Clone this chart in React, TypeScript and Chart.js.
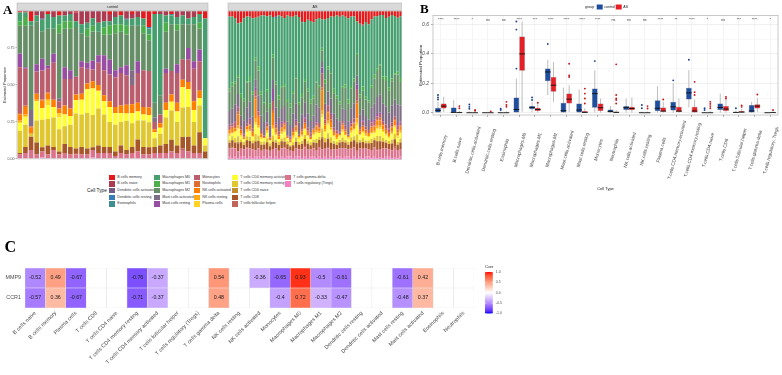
import React, { useEffect, useRef } from "react";
import { Chart, registerables } from "chart.js";

Chart.register(...registerables);

const SANS = "'Liberation Sans', Arial, Helvetica, sans-serif";
const SERIF = "'Liberation Serif', 'Times New Roman', serif";
Chart.defaults.font.family = SANS;

// ---------- Panel A: CIBERSORT fractions per sample ----------
const cellTypes = [
  "B cells memory", "B cells naive", "Dendritic cells activated", "Dendritic cells resting", "Eosinophils",
  "Macrophages M0", "Macrophages M1", "Macrophages M2", "Mast cells activated", "Mast cells resting",
  "Monocytes", "Neutrophils", "NK cells activated", "NK cells resting", "Plasma cells",
  "T cells CD4 memory activated", "T cells CD4 memory resting", "T cells CD4 naive", "T cells CD8",
  "T cells follicular helper", "T cells gamma delta", "T cells regulatory (Tregs)",
];
const cellColors = [
  "#E41A1C", "#AA3B50", "#715D84", "#377EB8", "#3E8E93",
  "#469F6F", "#4DAF4A", "#668F68", "#7F6E85", "#984EA3",
  "#BA5E6D", "#DD6F36", "#FF7F00", "#FFAA11", "#FFD422",
  "#FFFF33", "#E1C72F", "#C48E2C", "#A65628", "#C1645A",
  "#DC738D", "#F781BF",
];

// control group (percent of each sample)
const ctrlBmem = [1,0,7,0,0,2,0,3,0,0, 1,0,0,0,0,0,2,0,3,0, 2,0,5,11,2,0,0,2,0,0, 0,0,2,5];
const ctrlBnaive = [0,1,0,3,5,0,4,0,3,2, 6,9,8,5,8,7,5,4,0,5, 3,4,0,0,0,2,3,0,4,3, 5,4,0,0];
const ctrlDCact = [0,0,0,0,1,0,0,0,0,0, 0,0,0,0,0,0,0,0,0,1, 0,0,0,0,0,0,0,0,0,0, 0,0,0,0];
const ctrlDCrest = [0,0,0,0,0,0,0,0,0,0, 0,0,0,0,0,0,0,0,0,0, 0,0,0,1,0,0,0,0,0,0, 0,0,0,0];
const ctrlEos = [0,0,0,0,0,0,0,0,0,0, 0,0,0,0,0,0,0,0,0,0, 0,0,0,0,0,0,0,1,0,0, 0,0,0,0];
const ctrlM0 = [6,3,3,4,8,10,8,6,4,5, 4,6,4,5,6,4,3,5,6,4, 5,6,5,4,60,55,5,6,5,6, 4,5,6,81];
const ctrlM1 = [3,6,0,0,0,0,0,6,5,5, 0,0,5,4,0,5,6,6,5,6, 0,0,5,4,0,0,6,0,4,0, 0,0,4,0];
const ctrlM2 = [19,28,57,29,19,25,17,44,26,28, 34,19,18,20,16,14,17,25,24,21, 30,24,25,21,10,13,25,32,23,24, 16,25,14,0];
const ctrlMastAct = [0,0,11,0,0,0,0,2,0,0, 0,0,0,0,0,0,0,0,0,0, 10,0,0,0,3,0,0,0,0,0, 0,0,0,0];
const ctrlMastRest = [9,1,0,5,8,2,6,0,8,6, 0,4,4,6,5,10,10,5,4,7, 0,8,0,0,0,0,3,0,6,0, 8,5,8,0];
const ctrlMono = [31,25,0,15,20,16,25,5,18,20, 12,18,10,8,15,17,18,20,22,20, 13,20,25,25,5,6,20,16,20,14, 15,22,20,0];
const ctrlNeut = [1,1,1,0,1,1,0,0,0,0, 0,0,0,0,0,0,0,0,0,0, 0,0,0,0,0,0,0,0,0,0, 0,0,0,0];
const ctrlNKact = [4,5,4,4,5,4,5,3,6,5, 4,4,4,5,4,4,4,4,5,6, 6,6,5,5,2,3,5,5,6,5, 5,6,5,0];
const ctrlNKrest = [1,1,0,1,0,0,0,0,0,0, 0,0,0,0,0,0,0,0,0,0, 0,0,0,0,0,0,0,0,0,0, 0,0,0,0];
const ctrlPlasma = [1,1,0,0,0,4,0,3,0,0, 0,0,0,0,0,0,0,0,0,0, 0,0,0,0,0,0,0,0,0,0, 0,0,0,0];
const ctrlCD4act = [5,5,0,13,8,9,7,8,8,6, 9,10,16,18,12,9,10,8,6,5, 7,6,4,5,4,4,5,6,7,14, 12,8,5,5];
const ctrlCD4rest = [15,15,2,15,19,18,20,15,12,15, 24,22,24,22,25,22,17,18,16,20, 16,13,18,17,6,8,18,20,16,20, 20,16,18,4];
const ctrlCD4naive = [0,0,0,0,0,0,0,0,0,0, 0,0,0,0,0,0,0,0,0,0, 0,0,0,0,0,0,0,0,0,0, 0,0,0,0];
const ctrlCD8 = [1,4,9,8,3,6,2,2,6,5, 3,5,4,2,5,4,4,3,5,3, 4,8,5,5,4,5,6,8,5,8, 10,5,14,5];
const ctrlTfh = [0,0,0,0,0,0,0,0,0,0, 1,0,0,0,0,0,0,0,0,0, 0,0,0,0,0,0,0,0,0,1, 0,0,0,0];
const ctrlGammaDelta = [3,4,6,3,4,3,6,3,4,3, 3,3,3,5,4,4,4,2,4,3, 4,5,3,3,4,4,4,5,4,6, 5,4,4,0];
const ctrlTregs = [0,0,0,0,1,0,0,0,0,0, 0,0,0,1,0,0,0,0,0,0, 0,0,0,0,0,0,0,0,0,0, 0,0,0,0];

// AS group (percent of each sample)
const asBmem = [4,4,5,9,8,5,4,4,5,5, 4,3,3,4,3,4,4,3,4,5, 3,4,4,3,4,7,8,6,7,8, 6,5,6,6,5,4,4,3,4,3, 4,5,4,4,7,9,10,8,9,6, 4,4,3,3,5,4,3,4,5,4];
const asBnaive = [0,0,0,0,0,0,0,0,0,0, 0,0,0,0,0,0,0,0,0,0, 0,0,0,0,0,1,0,0,0,0, 0,0,0,0,0,0,0,0,0,0, 0,0,0,0,0,0,1,0,0,0, 0,0,0,0,0,0,0,0,0,0];
const asDCact = [0,0,0,0,0,0,0,0,0,0, 0,0,0,0,0,0,0,0,0,0, 0,0,0,0,0,0,0,0,0,0, 0,0,0,0,0,0,0,0,0,0, 0,0,0,0,0,0,0,0,0,0, 0,0,0,0,0,0,0,0,0,0];
const asDCrest = [0,0,0,0,0,0,0,0,0,0, 0,0,0,0,0,0,1,0,0,0, 0,0,0,0,0,0,0,0,0,0, 0,0,0,0,0,0,0,0,0,0, 0,0,0,0,0,0,0,0,0,0, 0,0,0,0,0,0,0,0,0,0];
const asEos = [0,0,0,0,0,0,0,0,0,0, 0,0,0,0,0,0,0,0,0,0, 0,0,0,0,0,0,0,0,0,0, 0,0,0,0,0,0,0,0,0,0, 0,0,0,0,0,0,0,0,0,0, 0,0,0,0,0,0,0,0,0,0];
const asM0 = [52,48,45,38,50,55,47,42,50,30, 35,52,58,55,60,25,45,55,50,48, 55,60,52,45,58,50,42,48,55,52, 45,48,20,42,35,40,50,55,60,52, 48,55,50,45,22,50,45,55,52,48, 42,40,38,45,42,50,48,45,40,47];
const asM1 = [2,3,1,2,3,2,1,4,2,2, 3,2,1,2,3,2,2,3,1,2, 2,3,2,1,2,3,2,2,3,2, 1,2,2,3,2,1,3,2,2,1, 2,3,2,2,1,2,3,2,1,2, 3,2,1,2,3,2,2,1,2,3];
const asM2 = [14,16,15,12,12,13,18,14,15,14, 18,14,12,15,12,15,16,12,15,14, 13,12,14,18,12,12,15,15,12,12, 16,14,8,14,16,18,14,14,12,15, 16,12,14,16,14,12,14,12,12,14, 18,20,22,18,18,16,18,20,22,18];
const asMastAct = [10,11,12,9,8,9,12,12,8,6, 10,10,9,8,7,6,11,10,9,11, 9,8,10,12,8,9,11,10,8,9, 12,11,4,10,10,11,10,8,7,9, 11,9,10,11,6,9,8,8,7,10, 12,13,14,12,13,11,12,13,14,12];
const asMastRest = [1,0,1,1,0,1,0,1,0,2, 1,0,0,1,0,8,1,0,1,0, 0,1,0,1,0,0,1,0,1,0, 1,0,4,1,0,1,0,0,1,0, 1,0,1,0,3,0,1,0,0,1, 1,2,1,1,0,1,1,0,2,1];
const asMono = [2,2,3,3,2,1,2,3,2,5, 3,2,1,2,1,6,2,2,3,2, 1,1,2,3,1,2,3,2,2,1, 2,3,10,3,4,3,2,2,1,2, 2,1,2,3,8,2,3,2,2,3, 3,2,3,2,3,2,3,2,3,2];
const asNeut = [1,1,1,2,1,1,0,1,1,2, 1,1,0,1,1,2,1,1,1,1, 0,1,1,1,0,1,1,1,1,0, 1,1,2,1,1,2,1,1,0,1, 1,0,1,1,2,1,1,1,0,1, 1,1,2,1,1,1,1,1,2,1];
const asNKact = [2,3,2,8,2,1,2,3,2,14, 6,2,1,2,1,8,3,2,2,3, 1,1,2,3,1,2,3,2,1,2, 3,2,14,3,6,4,2,2,1,3, 2,1,2,3,10,2,3,2,2,3, 3,4,4,3,2,2,3,4,2,3];
const asNKrest = [1,1,0,2,1,0,1,1,0,3, 1,0,0,1,0,2,1,0,1,1, 0,0,1,1,0,1,1,0,0,1, 1,1,3,1,2,1,0,1,0,1, 1,0,1,1,3,0,1,1,0,1, 1,2,1,1,1,0,1,1,1,1];
const asPlasma = [1,0,1,1,1,0,1,0,1,2, 1,1,0,1,0,1,1,0,1,1, 0,1,1,0,1,1,0,1,0,1, 1,0,2,1,1,1,1,0,1,1, 0,1,1,1,2,1,0,1,1,0, 1,1,2,1,1,1,1,1,1,1];
const asCD4act = [3,2,4,5,2,2,3,4,2,7, 5,2,2,4,2,4,3,2,3,4, 2,1,3,4,2,3,4,3,2,3, 4,3,8,4,6,5,3,2,2,4, 3,2,3,4,6,3,4,3,2,4, 3,5,5,4,3,2,4,5,3,4];
const asCD4rest = [2,3,3,4,2,2,3,3,2,5, 4,2,2,3,2,4,2,2,2,3, 2,1,2,3,2,2,3,2,2,2, 3,2,6,3,4,4,2,2,2,3, 2,2,3,3,5,2,3,2,2,3, 2,4,4,3,2,2,3,4,2,3];
const asCD4naive = [0,0,0,1,0,0,0,0,0,1, 0,0,0,0,0,0,0,0,0,0, 0,0,0,0,0,0,0,0,0,0, 0,0,1,0,0,0,0,0,0,0, 0,0,0,0,1,0,0,0,0,0, 0,0,0,0,0,0,0,0,0,0];
const asCD8 = [4,5,4,6,4,3,5,5,4,6, 5,4,3,5,3,5,4,4,5,4, 3,3,4,5,3,4,5,4,3,4, 5,5,8,4,6,5,4,3,4,5, 4,3,5,5,5,4,5,4,4,5, 5,6,6,5,4,4,5,6,4,5];
const asTfh = [0,1,0,0,0,0,1,0,0,0, 0,0,0,1,0,0,0,0,0,1, 0,0,0,0,0,0,1,0,0,0, 0,0,0,0,1,0,0,0,0,0, 0,0,1,0,0,0,0,0,0,0, 0,1,0,0,0,0,0,1,0,0];
const asGammaDelta = [6,7,6,5,6,5,7,6,6,5, 6,5,5,6,4,6,6,5,6,7, 5,4,5,6,5,6,7,6,5,6, 6,7,6,6,7,5,6,5,6,7, 6,5,6,7,5,6,7,6,5,6, 7,6,6,7,6,5,6,7,6,6];
const asTregs = [2,1,2,1,2,2,1,2,1,2, 2,1,2,1,2,1,2,1,2,1, 2,2,1,2,2,1,2,1,2,2, 1,2,1,2,1,2,1,2,2,1, 2,2,1,2,1,2,1,2,2,1, 2,1,2,1,2,2,1,2,1,2];

const ctrlSeries = [ctrlBmem, ctrlBnaive, ctrlDCact, ctrlDCrest, ctrlEos, ctrlM0, ctrlM1, ctrlM2, ctrlMastAct, ctrlMastRest,
  ctrlMono, ctrlNeut, ctrlNKact, ctrlNKrest, ctrlPlasma, ctrlCD4act, ctrlCD4rest, ctrlCD4naive, ctrlCD8, ctrlTfh, ctrlGammaDelta, ctrlTregs];
const asSeries = [asBmem, asBnaive, asDCact, asDCrest, asEos, asM0, asM1, asM2, asMastAct, asMastRest,
  asMono, asNeut, asNKact, asNKrest, asPlasma, asCD4act, asCD4rest, asCD4naive, asCD8, asTfh, asGammaDelta, asTregs];
const proportionTicks = [0, 0.25, 0.5, 0.75];

// ---------- Panel B: box statistics per cell type ----------
const boxCellTypes = [
  "B.cells.memory", "B.cells.naive", "Dendritic.cells.activated", "Dendritic.cells.resting", "Eosinophils",
  "Macrophages.M0", "Macrophages.M1", "Macrophages.M2", "Mast.cells.activated", "Mast.cells.resting",
  "Monocytes", "Neutrophils", "NK.cells.activated", "NK.cells.resting", "Plasma.cells",
  "T.cells.CD4.memory.activated", "T.cells.CD4.memory.resting", "T.cells.CD4.naive", "T.cells.CD8",
  "T.cells.follicular.helper", "T.cells.gamma.delta", "T.cells.regulatory..Tregs.",
];
const signifLabels = ["****","****","*","ns","ns","****","***","****","****","****","****","ns","ns","ns","****","**","****","*","ns","***","****","*"];
const ctrlMin = [0,0,0,0,0,0,0.002,0.12,0,0,0,0,0,0,0,0,0.036,0,0,0,0,0];
const ctrlQ1 = [0.002,0,0,0,0,0,0.023,0.214,0,0,0.034,0,0.018,0,0.01,0.015,0.09,0,0.018,0,0.002,0];
const ctrlMed = [0.016,0.002,0,0,0,0.022,0.036,0.277,0.014,0.018,0.13,0.009,0.034,0,0.03,0.04,0.135,0,0.036,0.002,0.012,0];
const ctrlQ3 = [0.034,0.036,0.004,0.001,0.002,0.104,0.045,0.3,0.068,0.063,0.164,0.022,0.045,0.003,0.085,0.075,0.17,0.002,0.063,0.006,0.052,0.002];
const ctrlMax = [0.074,0.086,0.01,0.003,0.006,0.232,0.074,0.36,0.171,0.158,0.288,0.045,0.097,0.008,0.18,0.2,0.29,0.005,0.13,0.015,0.074,0.005];
const ctrlOut = [[0.09,0.104,0.12],[],[0.027,0.04,0.056],[],[0.018,0.027],[0.3,0.565,0.62],[0.086,0.104],[0.468],[],[],[0.351],[],[],[0.03,0.052],[],[0.22],[0.36],[0.018,0.03],[],[0.03],[],[]];
const asMin = [0.005,0,0,0,0,0.007,0,0.074,0.005,0,0,0,0,0,0,0,0,0,0,0,0.005,0];
const asQ1 = [0.029,0,0,0,0,0.285,0.011,0.142,0.063,0,0.011,0,0.016,0,0.007,0.005,0,0,0.011,0,0.029,0];
const asMed = [0.045,0.001,0,0,0,0.4,0.022,0.187,0.092,0.002,0.034,0.002,0.029,0,0.011,0.011,0.012,0,0.025,0.004,0.045,0.001];
const asQ3 = [0.063,0.006,0.003,0.002,0.004,0.518,0.034,0.243,0.13,0.012,0.063,0.008,0.04,0.003,0.036,0.04,0.04,0.004,0.045,0.012,0.058,0.004];
const asMax = [0.108,0.014,0.008,0.005,0.01,0.62,0.063,0.345,0.187,0.03,0.097,0.02,0.104,0.008,0.075,0.097,0.09,0.01,0.09,0.025,0.1,0.012];
const asOut = [[],[0.03,0.045],[0.013,0.018],[0.008],[0.04,0.052,0.074],[],[0.068],[],[0.243,0.254,0.333],[0.063,0.097,0.13,0.164],[],[0.063,0.086,0.097,0.12,0.329],[],[0.029,0.045],[0.09],[],[0.12,0.14,0.21],[0.03,0.045,0.06,0.074],[0.097,0.108],[0.04,0.05],[0.124],[0.018]];
const boxTicks = [0, 0.1, 0.2, 0.3, 0.4, 0.5, 0.6];

// ---------- Panel C: correlation of MMP9 / CCR1 with immune cells ----------
const corrCells = [
  "B cells naive", "B cells memory", "Plasma cells", "T cells CD8", "T cells CD4 naive",
  "T cells CD4 memory resting", "T cells CD4 memory activated", "T cells follicular helper",
  "T cells regulatory (Tregs)", "T cells gamma delta", "NK cells resting", "NK cells activated",
  "Monocytes", "Macrophages M0", "Macrophages M1", "Macrophages M2", "Dendritic cells resting",
  "Dendritic cells activated", "Mast cells resting", "Mast cells activated", "Eosinophils", "Neutrophils",
];
const corrMMP9 = [-0.52,0.49,-0.67,null,null,-0.76,-0.37,null,null,0.54,null,-0.36,-0.65,0.93,-0.5,-0.61,null,null,-0.61,0.42,null,null];
const corrCCR1 = [-0.57,0.36,-0.67,null,null,-0.71,-0.37,null,null,0.48,null,null,-0.4,0.72,-0.33,-0.47,null,null,-0.48,0.37,null,null];
const corrLegendTicks = [1, 0.5, 0, -0.5, -1];

// ---------- colour helpers (blue-white-red diverging scale in CIE Lab) ----------
function hexToLab(hex: string): number[] {
  const ch = [1, 3, 5].map((i) => parseInt(hex.slice(i, i + 2), 16) / 255);
  const lin = ch.map((c) => (c <= 0.04045 ? c / 12.92 : Math.pow((c + 0.055) / 1.055, 2.4)));
  const [R, G, B] = lin;
  const X = (R * 0.4124564 + G * 0.3575761 + B * 0.1804375) / 0.95047;
  const Y = R * 0.2126729 + G * 0.7151522 + B * 0.072175;
  const Z = (R * 0.0193339 + G * 0.119192 + B * 0.9503041) / 1.08883;
  const f = (t: number) => (t > 216 / 24389 ? Math.cbrt(t) : ((24389 / 27) * t + 16) / 116);
  const fx = f(X), fy = f(Y), fz = f(Z);
  return [116 * fy - 16, 500 * (fx - fy), 200 * (fy - fz)];
}
function labToRgb(lab: number[]): string {
  const [L, a, b] = lab;
  const fy = (L + 16) / 116, fx = fy + a / 500, fz = fy - b / 200;
  const inv = (t: number) => (t * t * t > 216 / 24389 ? t * t * t : (116 * t - 16) / (24389 / 27));
  const X = inv(fx) * 0.95047, Y = inv(fy), Z = inv(fz) * 1.08883;
  const lin = [
    3.2404542 * X - 1.5371385 * Y - 0.4985314 * Z,
    -0.969266 * X + 1.8760108 * Y + 0.041556 * Z,
    0.0556434 * X - 0.2040259 * Y + 1.0572252 * Z,
  ];
  const out = lin.map((c) => {
    const v = Math.min(1, Math.max(0, c));
    const g = v <= 0.0031308 ? 12.92 * v : 1.055 * Math.pow(v, 1 / 2.4) - 0.055;
    return Math.round(g * 255);
  });
  return `rgb(${out[0]},${out[1]},${out[2]})`;
}
const LAB_WHITE = hexToLab("#FFFFFF");
const LAB_BLUE = hexToLab("#0000FF");
const LAB_RED = hexToLab("#FF0000");
function corrColor(v: number | null): string {
  if (v === null) return "#ffffff";
  const end = v < 0 ? LAB_BLUE : LAB_RED;
  const t = Math.min(1, Math.abs(v));
  return labToRgb(LAB_WHITE.map((w, i) => w + (end[i] - w) * t));
}

function toProportions(series: number[][]): number[][] {
  const n = series[0].length;
  const totals = Array.from({ length: n }, (_, j) => series.reduce((s, row) => s + row[j], 0));
  return series.map((row) => row.map((v, j) => v / totals[j]));
}

// ---------- plugins ----------
const facetPlugin = {
  id: "facetStrip",
  afterDraw(chart: any, _args: any, opts: any) {
    const { ctx, chartArea } = chart;
    const { left, right, top, bottom } = chartArea;
    ctx.save();
    ctx.fillStyle = "#d9d9d9";
    ctx.fillRect(left, 3, right - left, 7.5);
    ctx.strokeStyle = "#b5b5b5";
    ctx.lineWidth = 0.6;
    ctx.strokeRect(left, 3, right - left, 7.5);
    ctx.fillStyle = "#1a1a1a";
    ctx.font = `3.6px ${SANS}`;
    ctx.textAlign = "center";
    ctx.textBaseline = "middle";
    ctx.fillText(opts.text, (left + right) / 2, 6.9);
    ctx.strokeStyle = "#c2c2c2";
    ctx.lineWidth = 0.8;
    ctx.strokeRect(left, top, right - left, bottom - top);
    ctx.restore();
  },
};

const boxPlugin = {
  id: "boxExtras",
  beforeDatasetsDraw(chart: any) {
    const { ctx } = chart;
    const ys = chart.scales.y;
    chart.data.datasets.forEach((ds: any, di: number) => {
      const meta = chart.getDatasetMeta(di);
      meta.data.forEach((el: any, i: number) => {
        ctx.save();
        ctx.strokeStyle = "#bdbdbd";
        ctx.lineWidth = 1;
        ctx.beginPath();
        ctx.moveTo(el.x, ys.getPixelForValue(ds.stats.max[i]));
        ctx.lineTo(el.x, ys.getPixelForValue(ds.stats.min[i]));
        ctx.stroke();
        ctx.restore();
      });
    });
  },
  afterDatasetsDraw(chart: any) {
    const { ctx } = chart;
    const ys = chart.scales.y;
    chart.data.datasets.forEach((ds: any, di: number) => {
      const meta = chart.getDatasetMeta(di);
      meta.data.forEach((el: any, i: number) => {
        const w = el.width;
        const ym = ys.getPixelForValue(ds.stats.med[i]);
        ctx.save();
        ctx.strokeStyle = "#111111";
        ctx.lineWidth = 0.9;
        ctx.beginPath();
        ctx.moveTo(el.x - w / 2, ym);
        ctx.lineTo(el.x + w / 2, ym);
        ctx.stroke();
        ctx.fillStyle = ds.stats.dot;
        ds.stats.out[i].forEach((v: number) => {
          ctx.beginPath();
          ctx.arc(el.x, ys.getPixelForValue(v), 0.95, 0, Math.PI * 2);
          ctx.fill();
        });
        ctx.restore();
      });
    });
  },
  afterDraw(chart: any) {
    const { ctx, chartArea } = chart;
    const xs = chart.scales.x;
    const ys = chart.scales.y;
    ctx.save();
    ctx.strokeStyle = "#b3b3b3";
    ctx.lineWidth = 0.7;
    ctx.strokeRect(chartArea.left, chartArea.top, chartArea.right - chartArea.left, chartArea.bottom - chartArea.top);
    // significance marks
    ctx.fillStyle = "#333333";
    ctx.font = `3.6px ${SANS}`;
    ctx.textAlign = "center";
    ctx.textBaseline = "middle";
    signifLabels.forEach((s, i) => ctx.fillText(s, xs.getPixelForValue(i), ys.getPixelForValue(0.632)));
    // rotated category labels
    ctx.fillStyle = "#3a3a3a";
    ctx.font = `4.6px ${SANS}`;
    boxCellTypes.forEach((name, i) => {
      ctx.save();
      ctx.translate(xs.getPixelForValue(i) + 1, 150);
      ctx.rotate((-75 * Math.PI) / 180);
      ctx.fillText(name, 0, 0);
      ctx.restore();
    });
    // group legend
    ctx.textAlign = "left";
    ctx.fillStyle = "#222222";
    ctx.font = `3.6px ${SANS}`;
    ctx.fillText("group", 190, 7.2);
    ctx.fillStyle = "#1f4e9f";
    ctx.fillRect(201.7, 4.5, 6, 5);
    ctx.fillStyle = "#e41f26";
    ctx.fillRect(220.7, 4.5, 6, 5);
    ctx.fillStyle = "#222222";
    ctx.fillText("control", 209.3, 7.2);
    ctx.fillText("AS", 228.3, 7.2);
    ctx.restore();
  },
};

const heatPlugin = {
  id: "heatExtras",
  afterDatasetsDraw(chart: any) {
    const { ctx } = chart;
    ctx.save();
    ctx.fillStyle = "#1a1a1a";
    ctx.font = `5.3px ${SANS}`;
    ctx.textAlign = "center";
    ctx.textBaseline = "middle";
    chart.data.datasets.forEach((ds: any, di: number) => {
      const meta = chart.getDatasetMeta(di);
      meta.data.forEach((el: any, i: number) => {
        const v = ds.corr[i];
        if (v === null) return;
        ctx.fillText(String(v), el.x, (el.y + el.base) / 2);
      });
    });
    ctx.restore();
  },
  afterDraw(chart: any) {
    const { ctx, chartArea } = chart;
    const x0 = chartArea.right + 11;
    const y0 = chartArea.top + 4;
    const h = 41.5;
    const w = 7.8;
    ctx.save();
    const grad = ctx.createLinearGradient(0, y0, 0, y0 + h);
    for (let k = 0; k <= 20; k++) grad.addColorStop(k / 20, corrColor(1 - k / 10));
    ctx.fillStyle = grad;
    ctx.fillRect(x0, y0, w, h);
    ctx.fillStyle = "#222222";
    ctx.font = `4.4px ${SANS}`;
    ctx.textAlign = "left";
    ctx.textBaseline = "middle";
    ctx.fillText("Corr", x0, y0 - 5);
    ctx.font = `3.5px ${SANS}`;
    ctx.fillStyle = "#4d4d4d";
    corrLegendTicks.forEach((t) => {
      const y = y0 + ((1 - t) / 2) * h;
      ctx.fillText(t.toFixed(1), x0 + w + 3, y);
      ctx.strokeStyle = "#ffffff";
      ctx.lineWidth = 0.5;
      ctx.beginPath();
      ctx.moveTo(x0, y);
      ctx.lineTo(x0 + 1.5, y);
      ctx.moveTo(x0 + w - 1.5, y);
      ctx.lineTo(x0 + w, y);
      ctx.stroke();
    });
    ctx.restore();
  },
};

// ---------- chart configs ----------
function stackConfig(series: number[][], showAxis: boolean, strip: string) {
  const fractions = toProportions(series);
  const sampleIds = fractions[0].map((_, j) => `${strip}_${j + 1}`);
  return {
    type: "bar",
    data: {
      labels: sampleIds,
      datasets: cellTypes
        .map((name, k) => ({
          label: name,
          data: fractions[k],
          backgroundColor: cellColors[k],
          borderWidth: 0,
          barPercentage: 0.82,
          categoryPercentage: 1,
        }))
        .reverse(),
    },
    options: {
      animation: false,
      responsive: false,
      maintainAspectRatio: false,
      layout: { padding: { top: 11, bottom: 2.5, left: 0, right: showAxis ? 1 : 0 } },
      plugins: { legend: { display: false }, tooltip: { enabled: false }, facetStrip: { text: strip } },
      scales: {
        x: { stacked: true, display: false },
        y: {
          stacked: true,
          min: 0,
          max: 1,
          display: showAxis,
          afterFit: (s: any) => { s.width = 17; },
          afterBuildTicks: (s: any) => { s.ticks = proportionTicks.map((v) => ({ value: v })); },
          ticks: { font: { size: 3.6 }, color: "#4d4d4d", padding: 1, callback: (v: any) => Number(v).toFixed(2) },
          grid: { drawOnChartArea: false, drawTicks: true, tickLength: 1.5, tickColor: "#666", lineWidth: 0.5 },
          border: { display: false },
          title: { display: true, text: "Estimated Proportion", font: { size: 3.8 }, color: "#222", padding: { top: 3, bottom: 0 } },
        },
      },
    },
    plugins: [facetPlugin],
  };
}

function boxConfig() {
  return {
    type: "bar",
    data: {
      labels: boxCellTypes,
      datasets: [
        {
          label: "control",
          data: ctrlQ1.map((q, i) => [q, ctrlQ3[i]]),
          stats: { min: ctrlMin, med: ctrlMed, max: ctrlMax, out: ctrlOut, dot: "#1b3f8a" },
          backgroundColor: "#1f4e9f",
          borderColor: "rgba(15,25,60,0.6)",
          borderWidth: 0.5,
          borderSkipped: false,
          barPercentage: 1,
          categoryPercentage: 0.73,
        },
        {
          label: "AS",
          data: asQ1.map((q, i) => [q, asQ3[i]]),
          stats: { min: asMin, med: asMed, max: asMax, out: asOut, dot: "#c8151b" },
          backgroundColor: "#e41f26",
          borderColor: "rgba(90,10,10,0.6)",
          borderWidth: 0.5,
          borderSkipped: false,
          barPercentage: 1,
          categoryPercentage: 0.73,
        },
      ],
    },
    options: {
      animation: false,
      responsive: false,
      maintainAspectRatio: false,
      layout: { padding: { top: 15.5, right: 4, left: 0, bottom: 0 } },
      plugins: { legend: { display: false }, tooltip: { enabled: false } },
      scales: {
        x: {
          afterFit: (s: any) => { s.height = 80; },
          ticks: { display: false },
          grid: { offset: false, color: "#ececec", lineWidth: 0.6, drawTicks: true, tickLength: 2, tickColor: "#777" },
          border: { display: false },
          title: { display: true, text: "Cell Type", font: { size: 4 }, color: "#222", padding: { top: 0, bottom: 4 } },
        },
        y: {
          min: -0.0155,
          max: 0.661,
          afterFit: (s: any) => { s.width = 38; },
          afterBuildTicks: (s: any) => { s.ticks = boxTicks.map((v) => ({ value: v })); },
          ticks: {
            font: { size: 5, style: "italic" },
            color: "#4d4d4d",
            padding: 2,
            callback: (v: any) => (Math.round(Number(v) * 10) % 2 === 0 ? Number(v).toFixed(1) : ""),
          },
          grid: {
            color: (c: any) => (Math.round(c.tick.value * 10) % 2 === 0 ? "#e6e6e6" : "#f3f3f3"),
            tickColor: (c: any) => (Math.round(c.tick.value * 10) % 2 === 0 ? "#777" : "rgba(0,0,0,0)"),
            lineWidth: 0.6,
            tickLength: 2,
          },
          border: { display: false },
          title: { display: true, text: "Estimated Proportion", font: { size: 4.4 }, color: "#222", padding: { top: 23, bottom: 0 } },
        },
      },
    },
    plugins: [boxPlugin],
  };
}

function heatConfig() {
  const cellStyle = {
    borderColor: "#e2e2e2",
    borderWidth: 0.5,
    borderSkipped: false,
    barPercentage: 1,
    categoryPercentage: 1,
    grouped: false,
  };
  return {
    type: "bar",
    data: {
      labels: corrCells,
      datasets: [
        { label: "CCR1", data: corrCells.map(() => [0, 1]), corr: corrCCR1, backgroundColor: corrCCR1.map(corrColor), ...cellStyle },
        { label: "MMP9", data: corrCells.map(() => [1, 2]), corr: corrMMP9, backgroundColor: corrMMP9.map(corrColor), ...cellStyle },
      ],
    },
    options: {
      animation: false,
      responsive: false,
      maintainAspectRatio: false,
      layout: { padding: { top: 43, right: 46, left: 0, bottom: 0 } },
      plugins: { legend: { display: false }, tooltip: { enabled: false } },
      scales: {
        x: {
          afterFit: (s: any) => { s.height = 67; },
          ticks: { autoSkip: false, minRotation: 45, maxRotation: 45, font: { size: 5.4 }, color: "#4d4d4d", padding: 2 },
          grid: { display: false, drawTicks: false },
          border: { display: false },
        },
        y: {
          min: 0,
          max: 2,
          afterFit: (s: any) => { s.width = 25; },
          afterBuildTicks: (s: any) => { s.ticks = [{ value: 0.5 }, { value: 1.5 }]; },
          ticks: { font: { size: 5.4 }, color: "#4d4d4d", padding: 4, callback: (v: any) => (Number(v) > 1 ? "MMP9" : "CCR1") },
          grid: { display: false, drawTicks: false },
          border: { display: false },
        },
      },
    },
    plugins: [heatPlugin],
  };
}

function ChartBox({ left, top, width, height, make }: { left: number; top: number; width: number; height: number; make: () => any }) {
  const ref = useRef<HTMLCanvasElement>(null);
  useEffect(() => {
    const chart = new Chart(ref.current as HTMLCanvasElement, make());
    return () => chart.destroy();
  }, []);
  return (
    <div style={{ position: "absolute", left, top, width, height }}>
      <canvas ref={ref} width={width} height={height} style={{ width, height, display: "block" }} />
    </div>
  );
}

const legendCols = [109, 154, 194, 232, 285];

export default function App() {
  return (
    <div style={{ position: "fixed", left: 0, top: 0, width: 782, height: 375, background: "#ffffff", overflow: "hidden", fontFamily: SANS }}>
      <ChartBox left={0} top={0} width={209} height={162} make={() => stackConfig(ctrlSeries, true, "control")} />
      <ChartBox left={211} top={0} width={191} height={162} make={() => stackConfig(asSeries, false, "AS")} />
      <ChartBox left={395} top={0} width={387} height={195} make={boxConfig} />
      <ChartBox left={0} top={225} width={520} height={150} make={heatConfig} />

      {/* cell type legend of panel A */}
      <div style={{ position: "absolute", left: 87, top: 187.7, fontSize: 4.8, lineHeight: "6px", color: "#1a1a1a", whiteSpace: "nowrap" }}>Cell Type</div>
      {cellTypes.map((name, k) => {
        const x = legendCols[Math.floor(k / 5)];
        const y = 174.5 + (k % 5) * 6.67;
        return (
          <React.Fragment key={name}>
            <div style={{ position: "absolute", left: x, top: y, width: 6, height: 5.6, background: cellColors[k] }} />
            <div style={{ position: "absolute", left: x + 8.3, top: y, fontSize: 3.6, lineHeight: "5.6px", color: "#333", whiteSpace: "nowrap" }}>{name}</div>
          </React.Fragment>
        );
      })}

      <div style={{ position: "absolute", left: 3, top: 3, fontFamily: SERIF, fontWeight: "bold", fontSize: 13, lineHeight: "13px", color: "#000" }}>A</div>
      <div style={{ position: "absolute", left: 420, top: 1.5, fontFamily: SERIF, fontWeight: "bold", fontSize: 13, lineHeight: "13px", color: "#000" }}>B</div>
      <div style={{ position: "absolute", left: 4.5, top: 238.5, fontFamily: SERIF, fontWeight: "bold", fontSize: 16, lineHeight: "16px", color: "#000" }}>C</div>
    </div>
  );
}
